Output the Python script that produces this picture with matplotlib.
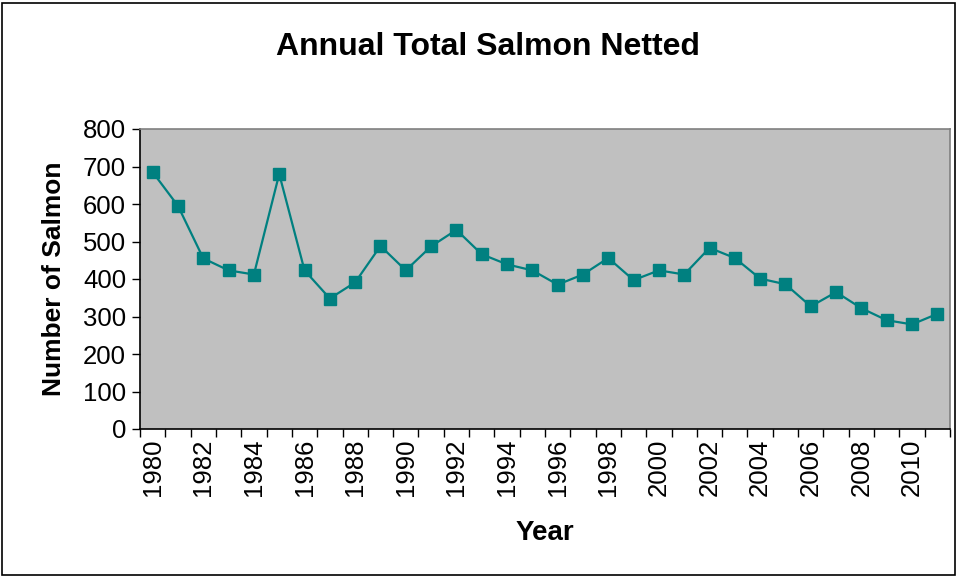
import numpy as np
import matplotlib
matplotlib.use('Agg')
import matplotlib.pyplot as plt
from matplotlib.patches import Rectangle

#### DATA

years = np.arange(1980, 2012)
salmon = [685, 595, 455, 423, 412, 680, 423, 348, 391, 488,
          423, 487, 531, 466, 439, 423, 385, 412, 456, 397,
          423, 412, 483, 456, 401, 386, 327, 365, 322, 290,
          279, 307]

#### PLOT

plt.rcParams['font.family'] = ['Liberation Sans', 'DejaVu Sans']

fg = plt.figure(figsize=(9.59, 5.77), dpi=100)
ax = fg.add_axes([140/959, 1-429/577, 810/959, 300/577])

ax.set_facecolor('#C0C0C0')

x = np.arange(len(years))
ax.plot(x, salmon, color='#008080', linewidth=1.6, marker='s', markersize=9,
        markerfacecolor='#008080', markeredgecolor='#008080', zorder=3)

ax.set_xlim(-0.5, len(years)-0.5)
ax.set_ylim(0, 800)

# category boundaries get tick marks, labels every second year
ax.set_xticks(np.arange(len(years)+1)-0.5)
ax.set_xticklabels([])
ax.set_xticks(x[::2], minor=True)
ax.set_xticklabels([str(y) for y in years[::2]], minor=True, rotation=90, fontsize=18.5)
ax.tick_params(axis='x', which='major', direction='out', length=6, width=1, color='black')
ax.tick_params(axis='x', which='minor', length=0, pad=7)

ax.set_yticks(np.arange(0, 801, 100))
ax.tick_params(axis='y', direction='out', length=6, width=1, labelsize=18.5, pad=4)

for s in ['left', 'bottom']:
	ax.spines[s].set_color('black')
	ax.spines[s].set_linewidth(1.2)
for s in ['top', 'right']:
	ax.spines[s].set_color('#808080')
	ax.spines[s].set_linewidth(1.2)

ax.set_xlabel('Year', fontsize=20, fontweight='bold', labelpad=17)
ax.set_ylabel('Number of Salmon', fontsize=19, fontweight='bold', labelpad=12)

fg.text(488/959, 1-47/577, 'Annual Total Salmon Netted', fontsize=23, fontweight='bold',
        ha='center', va='center')

# outer chart border
fg.patches.append(Rectangle((2/959, 2/577), 953/959, 572/577, transform=fg.transFigure,
                            fill=False, edgecolor='black', linewidth=1.2))

plt.savefig('out.png', dpi=100)
